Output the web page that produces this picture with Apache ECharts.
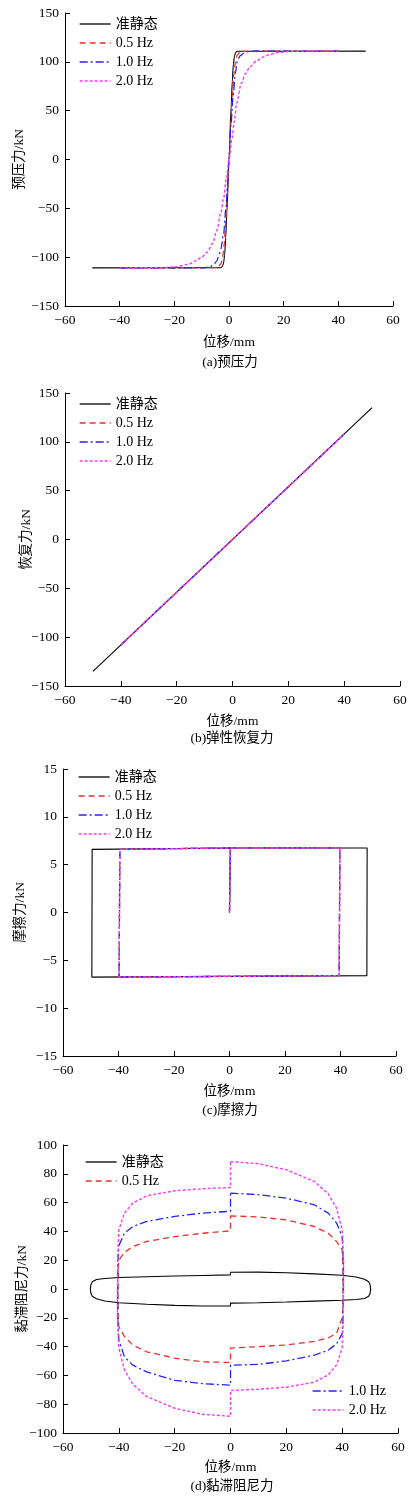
<!DOCTYPE html>
<html><head><meta charset="utf-8">
<script src="https://cdn.jsdelivr.net/npm/echarts@6/dist/echarts.min.js"></script>
<style>html,body{margin:0;padding:0;background:#fff}#c{width:418px;height:1502px}</style>
</head><body><div id="c"></div>
<script>
// ---------- data ----------
const seriesNames = ['准静态', '0.5 Hz', '1.0 Hz', '2.0 Hz'];
const xTicks = [-60, 60, 20];
const yRangeA = [-150, 150, 50];
const yRangeB = [-150, 150, 50];
const yRangeC = [-15, 15, 5];
const yRangeD = [-100, 100, 20];
const yNames = ['预压力/kN', '恢复力/kN', '摩擦力/kN', '黏滞阻尼力/kN'];
const xName = '位移/mm';
const captions = ['(a)预压力', '(b)弹性恢复力', '(c)摩擦力', '(d)黏滞阻尼力'];

// (a) pre-compression force
const a_quasi = [[-50,-111],[-3,-110.8],[-2.4,-109.5],[-2,-106],[-1.6,-98],[-1.2,-80],[-0.8,-55],[0,0],[0.8,55],[1.2,80],[1.6,98],[2,106],[2.4,109.5],[3,110.8],[50,111]];
const a_05 = [[-40,-111],[-5,-110.8],[-4,-110],[-3,-107],[-2.4,-101],[-1.8,-88],[-1.2,-65],[-0.6,-35],[0,0],[0.6,35],[1.2,65],[1.8,88],[2.4,101],[3,107],[4,110],[5,110.8],[40,111]];
const a_10 = [[-40,-111],[-9,-110.8],[-7,-110],[-5.5,-107.5],[-4.5,-104],[-3.9,-100],[-3,-92],[-2,-76],[-1.1,-50],[-0.5,-25],[0,0],[0.7,35],[1.5,65],[2.3,88],[3,100],[4,106],[5.5,109],[7,110.5],[9,110.9],[40,111]];
const a_20 = [[-40,-111],[-25,-110.8],[-20,-110],[-15,-107.5],[-12,-103.5],[-10,-100],[-8,-95],[-6,-86],[-4.5,-73],[-3,-55],[-2,-40],[-1,-20],[0,0],[1,20],[2,40],[2.8,58],[4.5,78],[6,88],[7.7,95],[10,101],[12.5,105],[15,107.5],[17.5,109.3],[22,110.6],[28,111],[40,111]];

// (b) elastic restoring force
const b_quasi = [[-50,-135],[50,135]];
const b_05 = [[-40,-108],[40,108]];
const b_10 = [[-40,-108],[40,108]];
const b_20 = [[-40,-108],[40,108]];

// (c) friction force
const c_quasi = [[0,0],[0.3,6.75],[49.6,6.75],[50,6.6],[49.5,-6.6],[49.2,-6.75],[-49.6,-6.75],[-50,-6.6],[-49.5,6.6],[-49.2,6.75],[0.3,6.75]];
const c_05 = [[0,0],[0.3,6.75],[39.8,6.75],[40,6.6],[39.5,-6.6],[39.3,-6.75],[-39.8,-6.75],[-40,-6.6],[-39.5,6.6],[-39.3,6.75],[0.3,6.75]];
const c_10 = [[0,0],[0.3,6.75],[39.8,6.75],[40,6.6],[39.5,-6.6],[39.3,-6.75],[-39.8,-6.75],[-40,-6.6],[-39.5,6.6],[-39.3,6.75],[0.3,6.75]];
const c_20 = [[0,0],[0.3,6.75],[39.8,6.75],[40,6.6],[39.5,-6.6],[39.3,-6.75],[-39.8,-6.75],[-40,-6.6],[-39.5,6.6],[-39.3,6.75],[0.3,6.75]];

// (d) viscous damping force
const d_quasi = [[0,11.6],[10,11.7],[20,11.3],[30,10.5],[40,9.5],[45,8.3],[48,6.8],[49.5,5],[50,3],[50.2,0],[50,-3],[49.5,-5],[48,-6.6],[45,-7.3],[40,-7.8],[30,-8.4],[20,-9],[10,-9.5],[0,-9.8],[0,-11.8],[-10,-11.8],[-20,-11.4],[-30,-10.6],[-40,-9.6],[-45,-8.3],[-48,-6.8],[-49.5,-5],[-50,-3],[-50.2,0],[-50,3],[-49.5,5],[-48,6.6],[-45,7.3],[-40,8],[-30,8.5],[-20,9],[-10,9.4],[0,9.8],[0,11.6]];
const d_05 = [[0,50.8],[10,50],[20,48],[30,43.4],[35,38.7],[38,33],[40,27],[40.3,15],[40.3,0],[40.2,-15],[40,-20],[38,-30.8],[35,-34],[30,-36.3],[20,-38.9],[10,-40],[0,-41],[0,-51],[-10,-50.6],[-20,-48],[-30,-43.6],[-35,-38.9],[-38,-33],[-40,-26.2],[-40.3,-15],[-40.3,0],[-40.2,15],[-40,20],[-38,25.5],[-35,29.4],[-30,33],[-20,36.4],[-10,38.7],[0,40.4],[0,50.8]];
const d_10 = [[0,66.6],[10,65.5],[20,63.1],[30,58.5],[35,52.7],[38,45.8],[40,36.4],[40.4,20],[40.4,0],[40.3,-20],[40,-31],[38,-38],[35,-42.5],[30,-46],[20,-49.9],[10,-52.4],[0,-52.9],[0,-66.8],[-10,-65.7],[-20,-63.4],[-30,-57.6],[-35,-52.9],[-38,-47],[-40,-35.5],[-40.4,-20],[-40.4,0],[-40.3,20],[-40,30],[-38,38.7],[-35,43.4],[-30,46.9],[-20,50.4],[-10,52.7],[0,54],[0,66.6]];
const d_20 = [[0,88.4],[10,87],[20,82.8],[30,74.7],[35,66.1],[38,56.1],[40,41],[40.5,20],[40.5,0],[40.4,-20],[40,-41],[38,-52.7],[35,-59.6],[30,-64.7],[20,-68.2],[10,-69.6],[0,-70.5],[0,-88.4],[-10,-87],[-20,-82.8],[-30,-74.7],[-35,-66.1],[-38,-56.1],[-40,-41],[-40.5,-20],[-40.5,0],[-40.4,20],[-40,41],[-38,52.7],[-35,59.6],[-30,64.7],[-20,68.2],[-10,69.6],[0,70.5],[0,88.4]];

// ---------- chart ----------
const FONT = '"Liberation Serif", "Noto Sans CJK SC", serif';
const styles = [
  {color:'#000000', type:'solid', width:1.1},
  {color:'#e8302c', type:[6,4], width:1.3},
  {color:'#2424ee', type:[8,3,2,3], width:1.3},
  {color:'#f23cf2', type:[3,2], width:1.4}
];
const grids = [
  {left:65, top:13, width:328, height:293},
  {left:65, top:393, width:335, height:293},
  {left:63, top:769, width:333, height:287},
  {left:63, top:1145, width:335, height:288}
];
const yRanges = [yRangeA, yRangeB, yRangeC, yRangeD];
const yNameGaps = [39, 32, 36, 34];
const xNameGaps = [30, 29, 29, 28];
const panelData = [
  [a_quasi, a_05, a_10, a_20],
  [b_quasi, b_05, b_10, b_20],
  [c_quasi, c_05, c_10, c_20],
  [d_quasi, d_05, d_10, d_20]
];
const fmt = v => v < 0 ? '\u2212' + Math.abs(v) : String(v);
const axisCommon = {
  axisLine:{show:true, onZero:false, lineStyle:{color:'#000', width:1}},
  axisTick:{show:true, inside:true, length:5, lineStyle:{color:'#000'}},
  splitLine:{show:false},
  nameMoveOverlap:false,
  nameTextStyle:{fontFamily:FONT, fontSize:13.5, color:'#000'},
  axisLabel:{fontFamily:FONT, fontSize:13.5, color:'#000', formatter:fmt}
};
const xAxes = [], yAxes = [], series = [];
grids.forEach((g, i) => {
  xAxes.push(Object.assign({}, axisCommon, {
    type:'value', gridIndex:i, min:xTicks[0], max:xTicks[1], interval:xTicks[2],
    name:xName, nameLocation:'middle', nameGap:xNameGaps[i],
    axisLabel:Object.assign({}, axisCommon.axisLabel, {margin:8})
  }));
  yAxes.push(Object.assign({}, axisCommon, {
    type:'value', gridIndex:i, min:yRanges[i][0], max:yRanges[i][1], interval:yRanges[i][2],
    name:yNames[i], nameLocation:'middle', nameGap:yNameGaps[i], nameRotate:90,
    axisLabel:Object.assign({}, axisCommon.axisLabel, {margin:6})
  }));
  panelData[i].forEach((d, k) => {
    series.push({
      type:'line', name:seriesNames[k], xAxisIndex:i, yAxisIndex:i, data:d,
      symbol:'none', showSymbol:false, animation:false,
      smooth: i === 0 ? 0.3 : false, smoothMonotone: i === 0 ? 'x' : undefined,
      lineStyle:Object.assign({}, styles[k]), itemStyle:{color:styles[k].color},
      z: 2 + k
    });
  });
});
const legendBase = {
  orient:'vertical', itemWidth:31, itemHeight:14, itemGap:5, padding:0,
  itemStyle:{opacity:0}, lineStyle:{width:1.3, opacity:1},
  textStyle:{fontFamily:FONT, fontSize:14, color:'#000'}, selectedMode:false
};
const legends = [
  Object.assign({}, legendBase, {left:79, top:17, data:seriesNames}),
  Object.assign({}, legendBase, {left:79, top:397, data:seriesNames}),
  Object.assign({}, legendBase, {left:78, top:770, data:seriesNames}),
  Object.assign({}, legendBase, {left:85, top:1155, data:seriesNames.slice(0,2)}),
  Object.assign({}, legendBase, {left:312, top:1384, data:seriesNames.slice(2)})
];
const capPos = [[230,362],[232,738],[230,1110],[232,1486]];
const graphics = captions.map((t, i) => ({
  type:'text', x:capPos[i][0], y:capPos[i][1],
  style:{text:t, font:'13.5px ' + FONT, fill:'#000', textAlign:'center', textVerticalAlign:'middle'}
}));
const chart = echarts.init(document.getElementById('c'), null, {renderer:'canvas'});
chart.setOption({
  backgroundColor:'#ffffff', animation:false,
  grid:grids, xAxis:xAxes, yAxis:yAxes, series:series, legend:legends, graphic:graphics
});
</script></body></html>
